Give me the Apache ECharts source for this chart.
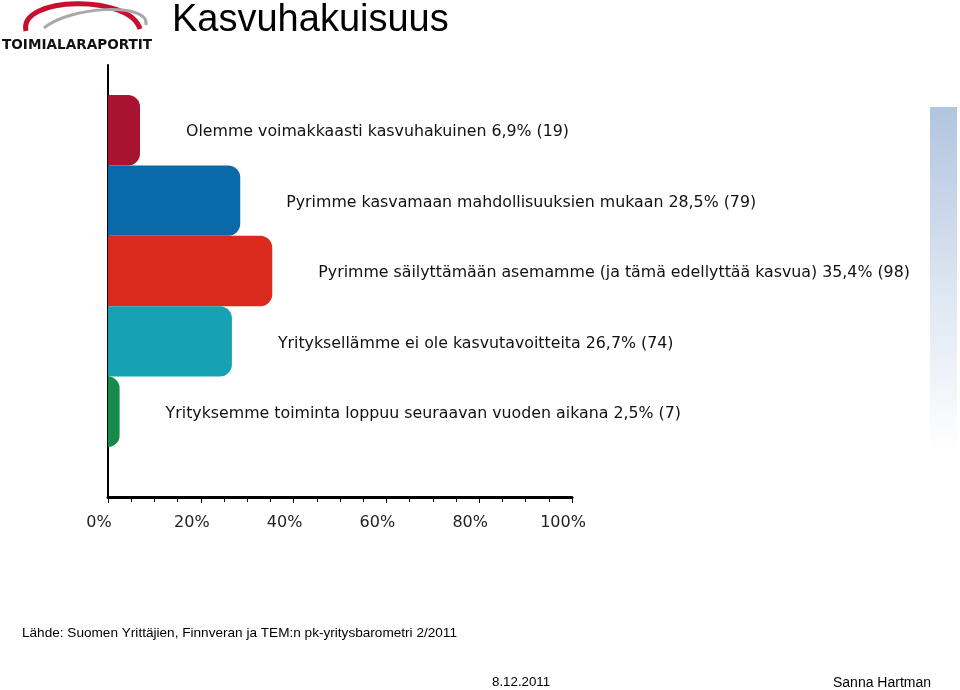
<!DOCTYPE html>
<html>
<head>
<meta charset="utf-8">
<script src="https://cdn.jsdelivr.net/npm/echarts@6/dist/echarts.min.js"></script>
<style>html,body{margin:0;padding:0;background:#fff}#c{width:960px;height:690px}</style>
</head>
<body>
<div id="c"></div>
<script>
const categories = [
  "Olemme voimakkaasti kasvuhakuinen",
  "Pyrimme kasvamaan mahdollisuuksien mukaan",
  "Pyrimme säilyttämään asemamme (ja tämä edellyttää kasvua)",
  "Yrityksellämme ei ole kasvutavoitteita",
  "Yrityksemme toiminta loppuu seuraavan vuoden aikana"
];
const percents = [6.9, 28.5, 35.4, 26.7, 2.5];
const counts = [19, 79, 98, 74, 7];
const barColors = ["#a8132f", "#0a69a9", "#da2a1e", "#16a2b4", "#148a4b"];
const xTicks = [0, 20, 40, 60, 80, 100];

const chart = echarts.init(document.getElementById('c'));
const L = 108, R = 960 - 572;
chart.setOption({
  animation: false,
  backgroundColor: '#fff',
  grid: [
    {left: L, right: R, top: 65, height: 432},
    {left: L, right: R, top: 95, height: 352}
  ],
  xAxis: [
    {gridIndex: 0, type: 'value', min: xTicks[0], max: xTicks[xTicks.length-1], interval: 20,
     axisLine: {show: true, onZero: false, lineStyle: {color: '#000', width: 3}},
     axisTick: {show: true, inside: false, length: 6, lineStyle: {color: '#000', width: 1}},
     minorTick: {show: true, splitNumber: 4, length: 5, lineStyle: {color: '#000', width: 1}},
     splitLine: {show: false},
     axisLabel: {formatter: '{value}%', color: '#222', fontFamily: 'DejaVu Sans', fontSize: 16, margin: 18, padding: [0, 18, 0, 0]}},
    {gridIndex: 1, type: 'value', min: 0, max: 100, show: false}
  ],
  yAxis: [
    {gridIndex: 0, type: 'value', min: 0, max: 1,
     axisLine: {show: true, lineStyle: {color: '#000', width: 2}},
     axisTick: {show: false}, axisLabel: {show: false}, splitLine: {show: false}},
    {gridIndex: 1, type: 'category', data: categories, inverse: true, show: false}
  ],
  series: [{
    type: 'bar', xAxisIndex: 1, yAxisIndex: 1,
    barCategoryGap: 0,
    data: percents.map((v, i) => ({value: v, itemStyle: {color: barColors[i]}})),
    itemStyle: {borderRadius: [0, 12, 12, 0]},
    label: {
      show: true, position: 'right', distance: 46,
      color: '#111', fontFamily: 'DejaVu Sans', fontSize: 15.8, offset: [0, 2],
      formatter: p => categories[p.dataIndex] + ' ' + String(percents[p.dataIndex]).replace('.', ',') + '% (' + counts[p.dataIndex] + ')'
    }
  }],
  graphic: [
    {type: 'text', left: 172, top: 2, style: {text: 'Kasvuhakuisuus', font: '38px "Liberation Sans", Arial, sans-serif', fill: '#000'}},
    {type: 'bezierCurve', shape: {x1: 26, y1: 31, cpx1: 18, cpy1: -4, cpx2: 130, cpy2: -6, x2: 140, y2: 29},
     style: {stroke: '#c8102e', lineWidth: 5, fill: null}},
    {type: 'bezierCurve', shape: {x1: 44, y1: 28, cpx1: 70, cpy1: 6, cpx2: 150, cpy2: 2, x2: 146, y2: 25},
     style: {stroke: '#a8a8a8', lineWidth: 3, fill: null}},
    {type: 'text', left: 2, top: 38, style: {text: 'TOIMIALARAPORTIT', font: 'bold 13.6px "DejaVu Sans", sans-serif', fill: '#111'}},
    {type: 'rect', shape: {x: 930, y: 107, width: 27, height: 345},
     style: {fill: new echarts.graphic.LinearGradient(0, 0, 0, 1, [
       {offset: 0, color: '#b1c5df'}, {offset: 0.55, color: '#dfe7f2'}, {offset: 1, color: '#ffffff'}])}},
    {type: 'text', left: 22, top: 626, style: {text: 'Lähde: Suomen Yrittäjien, Finnveran ja TEM:n pk-yritysbarometri 2/2011', font: '13.6px "Liberation Sans", Arial, sans-serif', fill: '#000'}},
    {type: 'text', left: 492, top: 676, style: {text: '8.12.2011', font: '13.3px "Liberation Sans", Arial, sans-serif', fill: '#000'}},
    {type: 'text', left: 833, top: 676, style: {text: 'Sanna Hartman', font: '14px "Liberation Sans", Arial, sans-serif', fill: '#000'}}
  ]
});
</script>
</body>
</html>
